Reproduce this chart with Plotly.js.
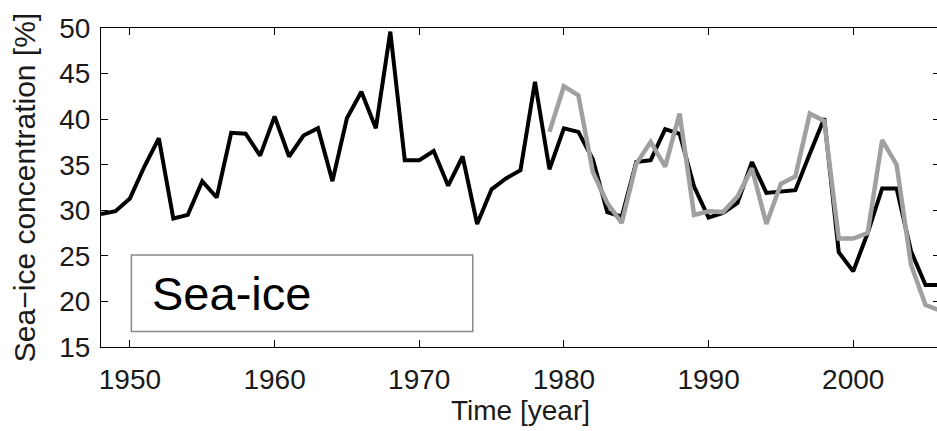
<!DOCTYPE html>
<html>
<head>
<meta charset="utf-8">
<script src="https://cdn.plot.ly/plotly-3.0.1.min.js"></script>
<style>
html,body{margin:0;padding:0;overflow:hidden;background:#fff;}
#chart{width:940px;height:431px;}
</style>
</head>
<body>
<div id="chart"></div>
<script>
const years = [1948,1949,1950,1951,1952,1953,1954,1955,1956,1957,1958,1959,1960,1961,1962,1963,1964,1965,1966,1967,1968,1969,1970,1971,1972,1973,1974,1975,1976,1977,1978,1979,1980,1981,1982,1983,1984,1985,1986,1987,1988,1989,1990,1991,1992,1993,1994,1995,1996,1997,1998,1999,2000,2001,2002,2003,2004,2005,2006];
const observed = [29.6,29.9,31.3,34.8,37.9,29.1,29.5,33.2,31.4,38.5,38.4,36.0,40.3,35.9,38.2,39.0,33.2,40.1,43.0,39.0,49.6,35.5,35.5,36.5,32.7,35.9,28.5,32.3,33.5,34.4,44.1,34.5,39.0,38.6,35.6,29.8,29.3,35.3,35.5,38.9,38.4,32.6,29.2,29.7,30.8,35.3,31.9,32.0,32.2,36.2,40.1,25.4,23.3,27.5,32.4,32.4,25.5,21.8,21.8];
const modelYears = [1979,1980,1981,1982,1983,1984,1985,1986,1987,1988,1989,1990,1991,1992,1993,1994,1995,1996,1997,1998,1999,2000,2001,2002,2003,2004,2005,2006];
const modelled = [38.6,43.6,42.6,34.2,30.8,28.6,35.1,37.5,34.8,40.6,29.5,29.9,29.8,31.5,34.6,28.5,32.9,33.7,40.6,39.8,26.9,26.9,27.5,37.7,35.0,24.0,19.6,19.0];
const xTicks = [1950,1960,1970,1980,1990,2000];
const yTicks = [15,20,25,30,35,40,45,50];
const labelText = "Sea-ice";

const font = "Liberation Sans, Arial, sans-serif";

const traces = [
  {x: years, y: observed, type: 'scatter', mode: 'lines', line: {color: '#000000', width: 4}, hoverinfo: 'skip'},
  {x: modelYears, y: modelled, type: 'scatter', mode: 'lines', line: {color: '#a0a0a0', width: 4.5}, hoverinfo: 'skip'}
];

const layout = {
  width: 940, height: 431,
  margin: {l: 101, r: 0, t: 28, b: 84},
  paper_bgcolor: '#ffffff', plot_bgcolor: '#ffffff',
  showlegend: false,
  font: {family: font, size: 28, color: '#000'},
  xaxis: {
    range: [1948, 2006], tickvals: xTicks, ticktext: xTicks.map(String),
    ticks: 'inside', ticklen: 7, tickwidth: 1, tickcolor: '#000',
    showline: true, linecolor: '#000', linewidth: 1, mirror: 'ticks',
    showgrid: false, zeroline: false,
    tickfont: {family: font, size: 28, color: '#1a1a1a'},
    ticklabelstandoff: 7,
    title: {text: 'Time [year]', font: {family: font, size: 28, color: '#1a1a1a'}, standoff: 6}
  },
  yaxis: {
    range: [15, 50], tickvals: yTicks, ticktext: yTicks.map(String),
    ticks: 'inside', ticklen: 7, tickwidth: 1, tickcolor: '#000',
    showline: true, linecolor: '#000', linewidth: 1, mirror: 'ticks',
    showgrid: false, zeroline: false,
    tickfont: {family: font, size: 28, color: '#1a1a1a'},
    ticklabelstandoff: 4,
    title: {text: 'Sea\u2212ice concentration [%]', font: {family: font, size: 30, color: '#1a1a1a'}, standoff: 14}
  },
  shapes: [
    {type: 'rect', xref: 'x', yref: 'y', x0: 1950.1, x1: 1973.7, y0: 16.7, y1: 25.1,
     line: {color: '#888888', width: 1.5}, fillcolor: 'rgba(255,255,255,0)'}
  ],
  annotations: [
    {xref: 'x', yref: 'y', x: 1951.4, y: 20.9, xanchor: 'left', yanchor: 'middle',
     text: labelText, showarrow: false, font: {family: font, size: 47, color: '#000'}}
  ]
};

Plotly.newPlot('chart', traces, layout, {displayModeBar: false, staticPlot: true});
</script>
</body>
</html>
